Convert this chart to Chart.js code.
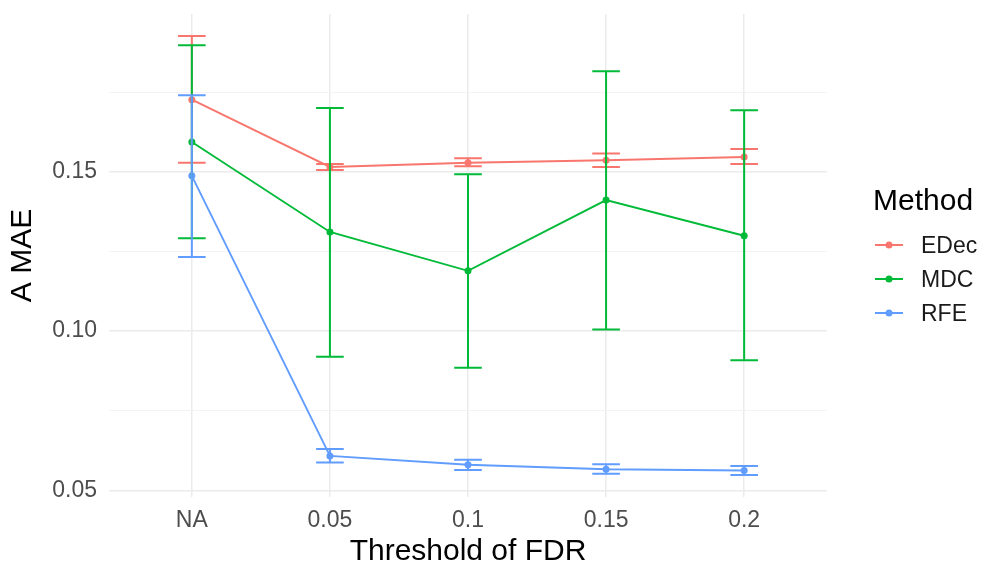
<!DOCTYPE html>
<html><head><meta charset="utf-8">
<script src="https://cdn.jsdelivr.net/npm/chart.js@4.4.1/dist/chart.umd.min.js"></script>
<style>
html,body{margin:0;padding:0;background:#fff;}
#wrap{position:relative;width:982px;height:566px;overflow:hidden;}
canvas{position:absolute;left:0;top:0;}
.lg{position:absolute;font-family:"Liberation Sans",Arial,sans-serif;white-space:nowrap;}
</style></head><body>
<div id="wrap"><canvas id="c" width="982" height="566"></canvas><div id="legend"></div></div>
<script>
const categories = ["NA", "0.05", "0.1", "0.15", "0.2"];
const methods = ["EDec", "MDC", "RFE"];
const edecMean = [0.1726, 0.1515, 0.1528, 0.1536, 0.1546];
const edecLow  = [0.1528, 0.1505, 0.1517, 0.1515, 0.1524];
const edecHigh = [0.1926, 0.1524, 0.1542, 0.1557, 0.1571];
const mdcMean  = [0.1593, 0.1311, 0.1189, 0.1411, 0.1299];
const mdcLow   = [0.1291, 0.0919, 0.0885, 0.1005, 0.0908];
const mdcHigh  = [0.1897, 0.1700, 0.1492, 0.1815, 0.1693];
const rfeMean  = [0.1487, 0.0608, 0.0580, 0.0566, 0.0562];
const rfeLow   = [0.1232, 0.0587, 0.0564, 0.0552, 0.0548];
const rfeHigh  = [0.1740, 0.0630, 0.0596, 0.0582, 0.0576];
const yTickValues = [0.05, 0.075, 0.10, 0.125, 0.15, 0.175];
const yMajorTicks = [0.05, 0.10, 0.15];
const colors = ["#F8766D", "#00BA38", "#619CFF"];

const means = [edecMean, mdcMean, rfeMean];
const lows = [edecLow, mdcLow, rfeLow];
const highs = [edecHigh, mdcHigh, rfeHigh];
const FONT = '"Liberation Sans", Arial, sans-serif';

const datasets = methods.map((m, k) => ({
  label: m,
  data: means[k].map((v, i) => ({x: i, y: v})),
  errLow: lows[k],
  errHigh: highs[k],
  borderColor: colors[k],
  backgroundColor: colors[k],
  borderWidth: 1.9,
  pointRadius: 3.5,
  pointBorderWidth: 0,
  pointHoverRadius: 3.5,
  tension: 0,
  fill: false
}));

const isMajor = v => yMajorTicks.some(t => Math.abs(t - v) < 1e-9);

const errPlugin = {
  id: 'errbars',
  afterDatasetsDraw(chart) {
    const {ctx, scales: {x, y}} = chart;
    chart.data.datasets.forEach(ds => {
      ctx.save();
      ctx.strokeStyle = ds.borderColor;
      ctx.lineWidth = 2;
      ds.errLow.forEach((lo, i) => {
        const hi = ds.errHigh[i];
        const xc = x.getPixelForValue(i), xl = x.getPixelForValue(i - 0.1), xr = x.getPixelForValue(i + 0.1);
        const yl = y.getPixelForValue(lo), yh = y.getPixelForValue(hi);
        ctx.beginPath();
        ctx.moveTo(xc, yl); ctx.lineTo(xc, yh);
        ctx.moveTo(xl, yl); ctx.lineTo(xr, yl);
        ctx.moveTo(xl, yh); ctx.lineTo(xr, yh);
        ctx.stroke();
      });
      ctx.restore();
    });
  }
};

const zeroPad = s => { s.paddingTop = 0; s.paddingBottom = 0; s.paddingLeft = 0; s.paddingRight = 0; };

new Chart(document.getElementById('c'), {
  type: 'line',
  data: {datasets},
  plugins: [errPlugin],
  options: {
    responsive: false,
    animation: false,
    devicePixelRatio: 1,
    layout: {padding: {left: 0, right: 155, top: 14, bottom: 0}},
    plugins: {legend: {display: false}, tooltip: {enabled: false}},
    scales: {
      x: {
        type: 'linear',
        min: -0.6, max: 4.6,
        afterBuildTicks: s => { s.ticks = categories.map((c, i) => ({value: i})); },
        afterFit: s => { s.height = 69; zeroPad(s); },
        border: {display: false},
        grid: {color: '#ebebeb', lineWidth: 1.5, drawTicks: false},
        ticks: {
          autoSkip: false, maxRotation: 0, padding: 10,
          color: '#4d4d4d', font: {family: FONT, size: 23},
          callback: (v) => categories[Math.round(v)]
        },
        title: {display: true, text: 'Threshold of FDR', color: '#000', font: {family: FONT, size: 30, lineHeight: 0.95}, padding: {top: 0, bottom: 0}}
      },
      y: {
        type: 'linear',
        min: 0.0479, max: 0.1995,
        afterBuildTicks: s => { s.ticks = yTickValues.map(v => ({value: v})); },
        afterFit: s => { s.width = 109; zeroPad(s); },
        border: {display: false},
        grid: {
          color: ctx => (ctx.tick && isMajor(ctx.tick.value)) ? '#ebebeb' : '#f3f3f3',
          lineWidth: ctx => (ctx.tick && isMajor(ctx.tick.value)) ? 1.5 : 1,
          drawTicks: false
        },
        ticks: {
          padding: 12, color: '#4d4d4d', font: {family: FONT, size: 23},
          callback: v => isMajor(v) ? v.toFixed(2) : ''
        },
        title: {display: true, text: 'A MAE', color: '#000', font: {family: FONT, size: 30, lineHeight: 1.2}, padding: {top: 5, bottom: 0}}
      }
    }
  }
});

// legend (HTML)
const lg = document.getElementById('legend');
const t = document.createElement('div');
t.className = 'lg';
t.style.cssText = 'left:873px;top:183px;font-size:30px;line-height:34px;color:#000;';
t.textContent = 'Method';
lg.appendChild(t);
const itemY = [245, 278.5, 312.5];
methods.forEach((m, k) => {
  const g = document.createElementNS('http://www.w3.org/2000/svg', 'svg');
  g.setAttribute('width', '30'); g.setAttribute('height', '12');
  g.style.cssText = 'position:absolute;left:874px;top:' + (itemY[k] - 6) + 'px;';
  g.innerHTML = '<line x1="1" y1="6" x2="29" y2="6" stroke="' + colors[k] + '" stroke-width="2"/><circle cx="15" cy="6" r="3.5" fill="' + colors[k] + '"/>';
  lg.appendChild(g);
  const d = document.createElement('div');
  d.className = 'lg';
  d.style.cssText = 'left:921px;top:' + (itemY[k] - 13) + 'px;font-size:23px;line-height:26px;color:#1a1a1a;';
  d.textContent = m;
  lg.appendChild(d);
});
</script>
</body></html>
